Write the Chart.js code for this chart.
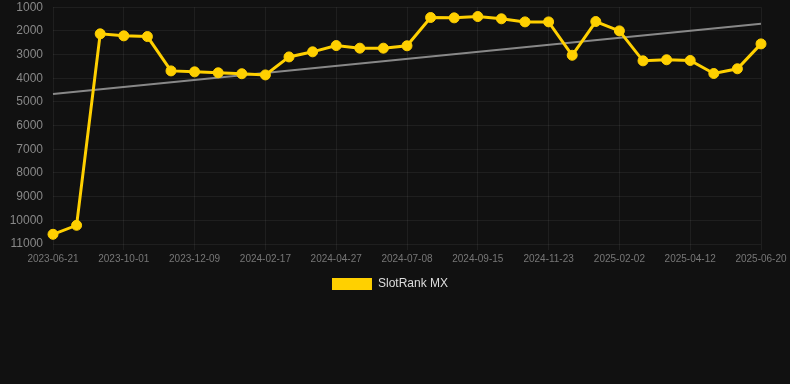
<!DOCTYPE html>
<html>
<head>
<meta charset="utf-8">
<script src="https://cdn.jsdelivr.net/npm/chart.js@4"></script>
<style>
  html, body { margin: 0; padding: 0; background: #111111; }
  #wrap { position: relative; width: 790px; height: 300px; }
</style>
</head>
<body>
<div id="wrap"><canvas id="c"></canvas></div>
<script>
const labels = [
  "2023-06-21","2023-07-25","2023-08-28","2023-10-01","2023-10-24","2023-11-16",
  "2023-12-09","2024-01-01","2024-01-24","2024-02-17","2024-03-11","2024-04-04",
  "2024-04-27","2024-05-21","2024-06-14","2024-07-08","2024-07-31","2024-08-23",
  "2024-09-15","2024-10-08","2024-10-31","2024-11-23","2024-12-17","2025-01-09",
  "2025-02-02","2025-02-25","2025-03-20","2025-04-12","2025-05-05","2025-05-28",
  "2025-06-20"
];
const rankValues = [
  10590, 10210, 2125, 2210, 2240, 3690, 3730, 3770, 3810, 3860,
  3100, 2885, 2620, 2730, 2730, 2630, 1435, 1450, 1395, 1490,
  1620, 1620, 3030, 1605, 2000, 3265, 3220, 3250, 3800, 3600,
  2550
];
const trendStart = 4670;
const trendEnd = 1700;
const yTicks = [1000,2000,3000,4000,5000,6000,7000,8000,9000,10000,11000];

const trendValues = labels.map((_, i) => i === 0 ? trendStart : (i === labels.length - 1 ? trendEnd : null));

new Chart(document.getElementById('c'), {
  type: 'line',
  data: {
    labels: labels,
    datasets: [
      {
        label: 'SlotRank MX',
        data: rankValues,
        borderColor: '#FFD000',
        backgroundColor: '#FFD000',
        borderWidth: 3,
        pointRadius: 5,
        pointHoverRadius: 5,
        pointBackgroundColor: '#FFD000',
        pointBorderColor: '#FFD000',
        pointBorderWidth: 1,
        tension: 0,
        order: 1
      },
      {
        label: 'Trend',
        data: trendValues,
        spanGaps: true,
        borderColor: 'rgba(150,150,150,0.9)',
        borderWidth: 2,
        pointRadius: 0,
        tension: 0,
        order: 2
      }
    ]
  },
  options: {
    responsive: true,
    maintainAspectRatio: false,
    animation: false,
    layout: { padding: { left: 0, right: 10, top: 0, bottom: 0 } },
    plugins: {
      legend: {
        position: 'bottom',
        labels: {
          color: '#dddddd',
          boxWidth: 40,
          boxHeight: 12,
          font: { family: 'Liberation Sans, Arial, sans-serif', size: 12 },
          generateLabels: (chart) => [{
            text: chart.data.datasets[0].label,
            fillStyle: '#FFD000',
            strokeStyle: '#FFD000',
            lineWidth: 0,
            hidden: false,
            datasetIndex: 0,
            fontColor: '#dddddd'
          }]
        }
      },
      tooltip: { enabled: false }
    },
    scales: {
      x: {
        grid: { color: 'rgba(255,255,255,0.06)', drawTicks: true, tickLength: 6 },
        border: { display: false },
        afterFit: (axis) => { axis.paddingRight = 29; },
        ticks: {
          color: '#777777',
          font: { family: 'Liberation Sans, Arial, sans-serif', size: 10 },
          maxRotation: 0,
          autoSkip: true,
          callback: function(value, index) { return index % 3 === 0 ? labels[index] : null; }
        }
      },
      y: {
        reverse: true,
        min: yTicks[0],
        max: yTicks[yTicks.length - 1],
        afterBuildTicks: (axis) => { axis.ticks = yTicks.map(v => ({ value: v })); },
        afterFit: (axis) => { axis.width = 53; },
        grid: { color: 'rgba(255,255,255,0.06)', drawTicks: true, tickLength: 10, tickColor: 'rgba(0,0,0,0)' },
        border: { display: false },
        ticks: {
          color: '#888888',
          padding: 0,
          font: { family: 'Liberation Sans, Arial, sans-serif', size: 12 },
          callback: (v) => String(v)
        }
      }
    }
  }
});
</script>
</body>
</html>
